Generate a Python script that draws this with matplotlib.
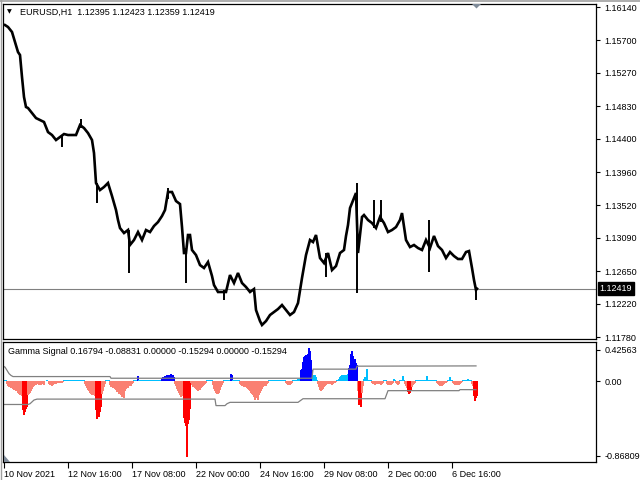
import matplotlib
matplotlib.use("Agg")
import matplotlib.pyplot as plt
import numpy as np

plt.rcParams['font.family'] = ['Liberation Sans', 'DejaVu Sans']
plt.rcParams['font.size'] = 6.5

# price samples (bar index, close), H1 bars
bars = [1, 4, 8, 11, 14, 16, 18, 20, 22, 24, 28, 32, 36, 40, 44, 48, 52, 56, 60, 64,
        68, 72, 76, 80, 84, 88, 90, 92, 96, 100, 104, 108, 112, 114, 116, 120, 124, 126,
        130, 134, 138, 142, 146, 150, 154, 158, 161, 164, 168, 172, 176, 178, 180, 182,
        184, 186, 188, 192, 196, 200, 204, 208, 210, 214, 218, 222, 226, 230, 234, 238,
        242, 246, 250, 252, 256, 258, 262, 266, 270, 274, 278, 282, 286, 290, 294, 298,
        302, 306, 309, 312, 316, 320, 324, 328, 332, 336, 340, 342, 344, 346, 348, 350,
        352, 354, 356, 358, 360, 364, 368, 372, 376, 380, 384, 388, 392, 396, 398, 402,
        406, 410, 414, 418, 422, 426, 430, 434, 438, 442, 446, 450, 454, 458, 462, 465,
        468, 470, 472, 473]
close = [1.15902, 1.15876, 1.15810, 1.15678, 1.15545, 1.15506, 1.15215, 1.14951, 1.14819,
         1.14806, 1.14740, 1.14673, 1.14647, 1.14621, 1.14488, 1.14449, 1.14383, 1.14422,
         1.14462, 1.14449, 1.14449, 1.14449, 1.14581, 1.14541, 1.14475, 1.14383, 1.14211,
         1.13815, 1.13722, 1.13762, 1.13815, 1.13643, 1.13458, 1.13326, 1.13220, 1.13154,
         1.13194, 1.12996, 1.13062, 1.13167, 1.13062, 1.13194, 1.13167, 1.13247, 1.13299,
         1.13379, 1.13458, 1.13696, 1.13696, 1.13577, 1.13537, 1.13233, 1.12890, 1.12890,
         1.13128, 1.13128, 1.12930, 1.12863, 1.12731, 1.12692, 1.12771, 1.12586, 1.12467,
         1.12375, 1.12375, 1.12375, 1.12599, 1.12494, 1.12626, 1.12494, 1.12441, 1.12375,
         1.12414, 1.12137, 1.11991, 1.11939, 1.11991, 1.12071, 1.12110, 1.12150, 1.12203,
         1.12137, 1.12071, 1.12110, 1.12229, 1.12560, 1.12863, 1.13062, 1.13035, 1.13128,
         1.12824, 1.12758, 1.12890, 1.12665, 1.12718, 1.12890, 1.12930, 1.13115, 1.13260,
         1.13484, 1.13550, 1.13617, 1.13683, 1.12890, 1.13128, 1.13366, 1.13392, 1.13326,
         1.13286, 1.13220, 1.13366, 1.13286, 1.13167, 1.13194, 1.13233, 1.13326, 1.13418,
         1.13062, 1.12969, 1.12996, 1.12956, 1.12930, 1.13062, 1.12956, 1.13115, 1.12982,
         1.12930, 1.12824, 1.12903, 1.12850, 1.12811, 1.12811, 1.12903, 1.12916, 1.12692,
         1.12533, 1.12401, 1.12419]

# long wicks
wick_bars = [58, 77, 93, 125, 164, 182, 220, 322, 353, 370, 377, 425, 472]
wick_low = [1.14290, 1.14541, 1.13550, 1.12626, 1.13600, 1.12494, 1.12269, 1.12573,
            1.12361, 1.13220, 1.13300, 1.12639, 1.12269]
wick_high = [1.14440, 1.14660, 1.13815, 1.13194, 1.13749, 1.12960, 1.12400, 1.12890,
             1.13815, 1.13590, 1.13590, 1.13326, 1.12401]

bid = 1.12419
price_ticks = [1.16140, 1.15700, 1.15270, 1.14830, 1.14400, 1.13960, 1.13520,
               1.13090, 1.12650, 1.12220, 1.11780]
time_labels = ["10 Nov 2021", "12 Nov 16:00", "17 Nov 08:00", "22 Nov 00:00",
               "24 Nov 16:00", "29 Nov 08:00", "2 Dec 00:00", "6 Dec 16:00"]
time_bars = [0, 64, 128, 192, 256, 320, 384, 448]

# Gamma Signal histogram: (start bar, values); other bars sit just above zero
n_bars = 474
base_val = 0.012
hist_segments = [
    (3, [-0.03, -0.05, -0.06, -0.06, -0.07, -0.06, -0.08, -0.09, -0.07, -0.10,
         -0.10, -0.12, -0.13, -0.15, -0.14, -0.16, -0.31, -0.36, -0.33, -0.30, -0.28,
         -0.15, -0.14, -0.12, -0.10, -0.08, -0.06, -0.05, -0.04, -0.04, -0.03]),
    (34, [-0.03, -0.04, -0.035, -0.04, -0.02, -0.03, -0.04, 0.01, 0.01, 0.015, 0.01,
          -0.03, -0.04, -0.03, -0.045, -0.04, -0.03, -0.02, -0.03,
          -0.02, -0.015, -0.02, -0.01, -0.02, -0.015, -0.01]),
    (81, [-0.03, -0.05, -0.07, -0.09, -0.10, -0.12, -0.14, -0.15, -0.13, -0.15, -0.16,
          -0.31, -0.40, -0.36, -0.38, -0.33, -0.28, -0.13, -0.10, -0.06, -0.03]),
    (106, [-0.04, -0.06, -0.05, -0.07, -0.06, -0.08, -0.09, -0.11, -0.10, -0.13, -0.12,
           -0.15, -0.17, -0.14, -0.18, -0.10, -0.08, -0.06, -0.07, -0.05, -0.04, -0.05,
           -0.03, -0.02]),
    (134, [0.06]),
    (158, [0.04, 0.05, 0.045, 0.06, 0.055, 0.07, 0.065, 0.05, 0.075, 0.08, 0.06, 0.07, 0.05]),
    (171, [-0.03, -0.05, -0.08, -0.10, -0.12, -0.15, -0.17, -0.14, -0.16,
           -0.39, -0.45, -0.48, -0.81, -0.46, -0.42, -0.30]),
    (187, [-0.02, -0.04, -0.06, -0.05, -0.07, -0.08, -0.09, -0.10, -0.08, -0.09, -0.07,
           -0.06, -0.05, -0.04, -0.03, -0.02]),
    (209, [-0.04, -0.08, -0.10, -0.12, -0.14, -0.13, -0.12, -0.09, -0.06, -0.04, -0.02]),
    (227, [0.08, 0.07]),
    (236, [-0.03, -0.04, -0.05, -0.04, -0.06, -0.05, -0.06, -0.07, -0.08, -0.09, -0.10,
           -0.12, -0.14, -0.15, -0.17, -0.20, -0.18, -0.16, -0.20, -0.15, -0.12, -0.10,
           -0.08, -0.06, -0.05, -0.04, -0.05, -0.03, -0.02]),
    (282, [-0.02, -0.03, -0.04, -0.03, -0.04, -0.03, -0.02]),
    (293, [0.02, 0.03, 0.03, 0.03, 0.12, 0.13, 0.21, 0.26, 0.27, 0.29, 0.25, 0.30, 0.36,
           0.33, 0.23, 0.12, 0.07, 0.06, 0.07, 0.05]),
    (314, [-0.03, -0.06, -0.09, -0.10, -0.09, -0.08, -0.06, -0.05, -0.04, -0.03,
           -0.02, -0.03, -0.02, -0.03, -0.04, -0.03, -0.02, -0.02, -0.01]),
    (334, [0.01, 0.03, 0.05, 0.06, 0.07, 0.06, 0.07, 0.06, 0.07, 0.06, 0.08]),
    (345, [0.15, 0.18, 0.30, 0.33, 0.28, 0.23, 0.24, 0.20, 0.18]),
    (354, [-0.10, -0.25, -0.19, -0.28, -0.12, -0.05]),
    (360, [0.03, 0.05, 0.04, 0.13, 0.02]),
    (368, [-0.02, -0.03, -0.02, -0.04, -0.03, -0.02, -0.03, -0.02, -0.03, -0.04, -0.03, -0.02]),
    (383, [-0.03, -0.04, -0.04, -0.03, -0.04, -0.03, -0.02]),
    (390, [0.027]),
    (392, [-0.02, -0.03, -0.04, -0.03]),
    (399, [0.056]),
    (401, [-0.03, -0.05, -0.07, -0.11, -0.13, -0.12, -0.105, -0.06, -0.04, -0.03, -0.02]),
    (423, [0.055]),
    (433, [-0.02, -0.03, -0.04, -0.05, -0.04, -0.05, -0.04, -0.03, -0.02, -0.02, -0.01]),
    (446, [0.05]),
    (449, [-0.02, -0.03, -0.04, -0.03, -0.04, -0.03, -0.04, -0.03, -0.02, -0.01]),
    (464, [0.025]),
    (468, [-0.03, -0.05, -0.16, -0.21, -0.18, -0.15294]),
]

# gray bands of the indicator
up_bars = [-1, 1, 3, 5, 7, 9, 106, 107, 308, 309, 352, 353, 472]
up_vals = [0.165, 0.155, 0.12, 0.085, 0.065, 0.053, 0.053, 0.035, 0.035, 0.133, 0.133,
           0.165, 0.16794]
lo_bars = [-1, 24, 26, 28, 30, 33, 211, 212, 221, 223, 226, 294, 299, 381, 384, 455, 456, 472]
lo_vals = [-0.248, -0.248, -0.24, -0.22, -0.20, -0.19, -0.19, -0.26, -0.26, -0.24, -0.225,
           -0.225, -0.186, -0.186, -0.099, -0.099, -0.088, -0.08831]

ind_top = 0.42563
ind_bot = -0.86809

hist = np.full(n_bars, base_val)
for start, vals in hist_segments:
    hist[start:start + len(vals)] = vals
hx = np.arange(n_bars)
up_i = np.interp(hx, up_bars, up_vals)
lo_i = np.interp(hx, lo_bars, lo_vals)
cols = []
for v, u, l in zip(hist, up_i, lo_i):
    if v >= 0:
        cols.append('#0000FF' if v > u else '#00BFFF')
    else:
        cols.append('#FF0000' if v < l else '#FA8072')

W, H = 640, 480


def rect(x0, y0, x1, y1):
    return [x0 / W, 1 - y1 / H, (x1 - x0) / W, (y1 - y0) / H]


fig = plt.figure(figsize=(6.4, 4.8), dpi=100)
ax = fig.add_axes(rect(3, 4, 596, 339))
ax2 = fig.add_axes(rect(3, 342, 596, 462))

# price panel
ax.axhline(bid, color='#808080', lw=0.8)
ax.plot(bars, close, color='black', lw=1.9, solid_joinstyle='miter')
ax.vlines(wick_bars, wick_low, wick_high, color='black', lw=1.4)
ax.set_xlim(-1, 592)
ax.set_ylim(1.11754, 1.16180)
ax.set_xticks([])
ax.yaxis.tick_right()
ax.set_yticks(price_ticks)
ax.set_yticklabels([f"{v:.5f}" for v in price_ticks])
ax.tick_params(axis='y', length=3, width=0.8, pad=3, labelsize=6.5)
ax.text(1.006, bid, f"{bid:.5f}", transform=ax.get_yaxis_transform(), va='center',
        ha='left', color='white', fontsize=6.5,
        bbox=dict(boxstyle='square,pad=0.2', fc='black', ec='black'))

# indicator panel
ax2.bar(hx, hist, width=1.15, color=cols, linewidth=0, antialiased=False)
ax2.plot(up_bars, up_vals, color='#808080', lw=0.9)
ax2.plot(lo_bars, lo_vals, color='#808080', lw=0.9)
ax2.set_xlim(-1, 592)
ax2.set_ylim(ind_bot, ind_top)
ax2.yaxis.tick_right()
ax2.set_yticks([0.343, 0.0, -0.803])
ax2.set_yticklabels([f"{ind_top:.5f}", "0.00", f"{ind_bot:.5f}"])
ax2.tick_params(axis='y', length=3, width=0.8, pad=3, labelsize=6.5)
ax2.set_xticks(time_bars)
ax2.set_xticklabels(time_labels)
ax2.tick_params(axis='x', length=4, width=0.8, pad=2, labelsize=6.5)
for lab in ax2.get_xticklabels():
    lab.set_ha('left')

for a in (ax, ax2):
    for s in a.spines.values():
        s.set_linewidth(0.9)

fig.text(20 / W, 1 - 12 / H, "EURUSD,H1  1.12395 1.12423 1.12359 1.12419",
         va='center', ha='left', fontsize=6.5)
fig.text(7 / W, 1 - 12 / H, "\u25bc", va='center', ha='left', fontsize=4.5,
         family='DejaVu Sans')
fig.text(8 / W, 1 - 352 / H,
         "Gamma Signal 0.16794 -0.08831 0.00000 -0.15294 0.00000 -0.15294",
         va='center', ha='left', fontsize=6.5)

# window border and small markers
fig.add_artist(plt.Line2D([0, 1], [1 - 1 / H, 1 - 1 / H], color='#a0a0a0', lw=1.2))
fig.add_artist(plt.Line2D([0.8 / W, 0.8 / W], [0, 1], color='#a0a0a0', lw=1.0))
fig.add_artist(plt.Polygon([[472 / W, 1 - 4 / H], [481 / W, 1 - 4 / H],
                            [476.5 / W, 1 - 8.5 / H]], closed=True,
                           transform=fig.transFigure, fc='#7f8b99', ec='none'))
fig.add_artist(plt.Polygon([[4 / W, 1 - 455 / H], [4 / W, 1 - 461.5 / H],
                            [10 / W, 1 - 461.5 / H]], closed=True,
                           transform=fig.transFigure, fc='#7f8b99', ec='none'))

fig.savefig("out.png", dpi=100)
